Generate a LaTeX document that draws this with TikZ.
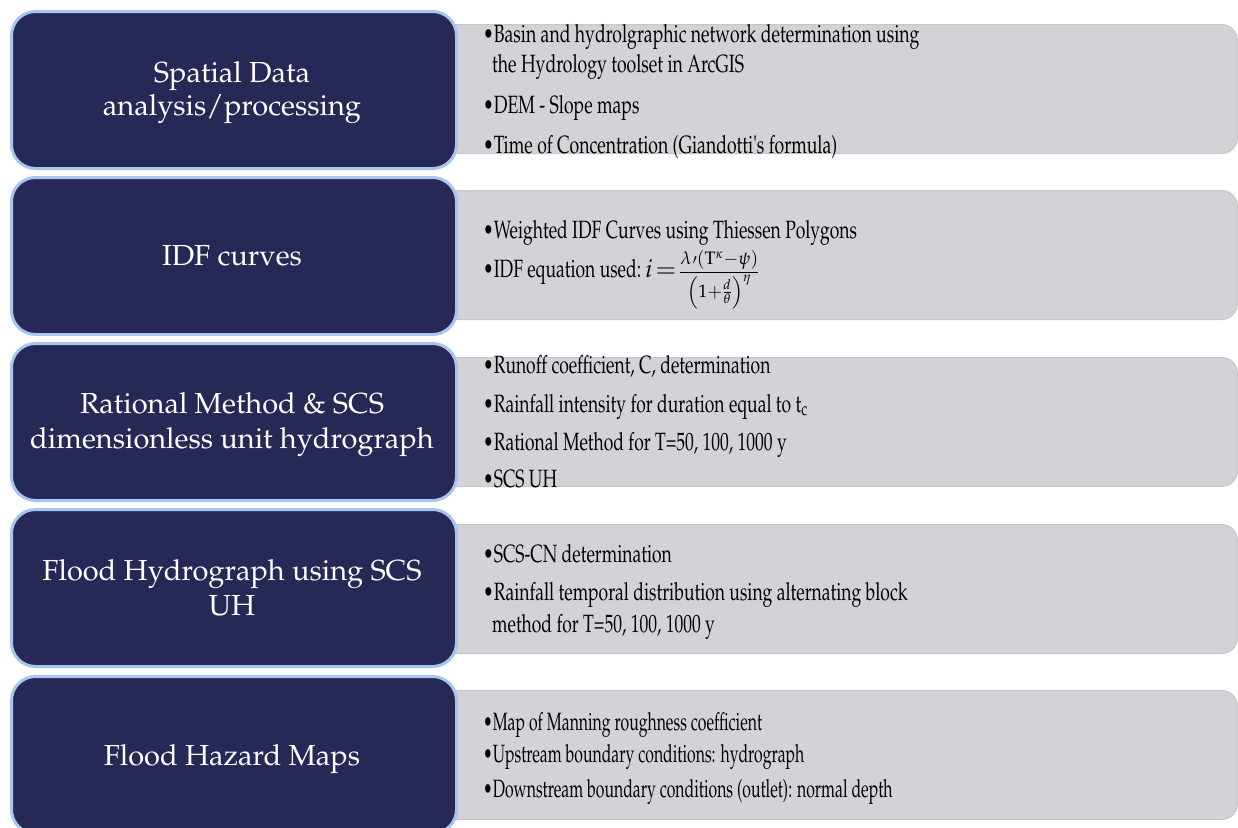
\documentclass[tikz,border=0pt]{standalone}
\usepackage[T1]{fontenc}
\usepackage{mathpazo}
\usepackage{graphicx}
\definecolor{boxfill}{HTML}{262856}
\definecolor{boxborder}{HTML}{A6C6F0}
\definecolor{greyfill}{HTML}{D2D3D6}
\definecolor{greyborder}{HTML}{C6C7CA}
\newcommand{\sq}[2]{\scalebox{#1}[1]{#2}}
\tikzset{
  darkbox/.style={draw=boxborder, line width=3pt, fill=boxfill, rounded corners=24pt,
    minimum width=445pt, minimum height=157pt, anchor=north west, inner sep=0pt},
  greybox/.style={draw=greyborder, line width=1pt, fill=greyfill, rounded corners=16pt,
    minimum width=797pt, minimum height=129pt, anchor=north west, inner sep=0pt},
  lefttxt/.style={text=white, font=\fontsize{29}{34}\selectfont, anchor=base, inner sep=0pt},
  item/.style={anchor=base west, inner sep=0pt, font=\fontsize{25}{29}\selectfont, text=black}
}
\begin{document}
\begin{tikzpicture}[x=1pt,y=-1pt]
\clip (0,0) rectangle (1238,827);
\fill[white] (0,0) rectangle (1238,827);
% grey boxes
\node[greybox] (g1) at (440,24) {};
\node[greybox] (g2) at (440,190) {};
\node[greybox] (g3) at (440,357) {};
\node[greybox] (g4) at (440,524) {};
\node[greybox] (g5) at (440,690) {};
% dark boxes
\node[darkbox] (d1) at (10,10) {};
\node[darkbox] (d2) at (10,176) {};
\node[darkbox] (d3) at (10,342) {};
\node[darkbox] (d4) at (10,508) {};
\node[darkbox] (d5) at (10,675) {};
% left texts
\node[lefttxt] (l1a) at (232,82) {Spatial Data};
\node[lefttxt] (l1b) at (232,115) {analysis/processing};
\node[lefttxt] (l2a) at (232,265) {IDF curves};
\node[lefttxt] (l3a) at (232,413) {Rational Method \& SCS};
\node[lefttxt] (l3b) at (232,448) {dimensionless unit hydrograph};
\node[lefttxt] (l4a) at (232,580) {Flood Hydrograph using SCS};
\node[lefttxt] (l4b) at (232,615) {UH};
\node[lefttxt] (l5a) at (232,765) {Flood Hazard Maps};
% right texts
\node[item] (t1a) at (483,42) {\sq{0.705}{\textbullet Basin and hydrolgraphic network determination using}};
\node[item] (t1b) at (492,72) {\sq{0.705}{the Hydrology toolset in ArcGIS}};
\node[item] (t1c) at (483,113) {\sq{0.705}{\textbullet DEM - Slope maps}};
\node[item] (t1d) at (483,153) {\sq{0.705}{\textbullet Time of Concentration (Giandotti\textquotesingle s formula)}};
\node[item] (t2a) at (483,238) {\sq{0.70}{\textbullet Weighted IDF Curves using Thiessen Polygons}};
\node[item] (t2b) at (483,277) {\sq{0.70}{\textbullet IDF equation used:}\kern4pt$i\mskip2mu{=}\mskip2mu$\fontsize{18}{21}\selectfont$\displaystyle\frac{\lambda\mkern1mu{\scriptstyle\prime}(\mathrm{T}^{\kappa}{-}\psi)}{\left(1{+}\frac{d}{\theta}\right)^{\eta}}$};
\node[item] (t3a) at (483,373) {\sq{0.70}{\textbullet Runoff coefficient, C, determination}};
\node[item] (t3b) at (483,412) {\sq{0.70}{\textbullet Rainfall intensity for duration equal to t\textsubscript{c}}};
\node[item] (t3c) at (483,450) {\sq{0.70}{\textbullet Rational Method for T=50, 100, 1000 y}};
\node[item] (t3d) at (483,487) {\sq{0.70}{\textbullet SCS UH}};
\node[item] (t4a) at (483,562) {\sq{0.70}{\textbullet SCS-CN determination}};
\node[item] (t4b) at (483,600) {\sq{0.70}{\textbullet Rainfall temporal distribution using alternating block}};
\node[item] (t4c) at (492,632) {\sq{0.70}{method for T=50, 100, 1000 y}};
\node[item] (t5a) at (483,730) {\sq{0.632}{\textbullet Map of Manning roughness coefficient}};
\node[item] (t5b) at (483,762) {\sq{0.632}{\textbullet Upstream boundary conditions: hydrograph}};
\node[item] (t5c) at (483,797) {\sq{0.632}{\textbullet Downstream boundary conditions (outlet): normal depth}};
\end{tikzpicture}
\end{document}
